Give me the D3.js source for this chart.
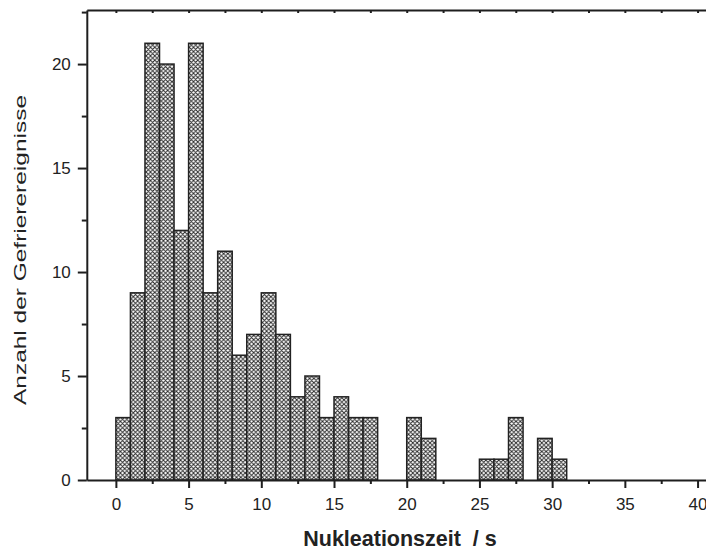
<!DOCTYPE html>
<html>
<head>
<meta charset="utf-8">
<script src="https://cdn.jsdelivr.net/npm/d3@7"></script>
<style>
  html, body { margin: 0; background: #fff; overflow: hidden; }
  svg { display: block; overflow: hidden; }
  svg text { font-family: Arial, "Liberation Sans", sans-serif; fill: #222; }
</style>
</head>
<body>
<div id="chart"></div>
<script>
// histogram bins (left edge, 1 s wide) and counts
const BIN_START = [0, 1, 2, 3, 4, 5, 6, 7, 8, 9, 10, 11, 12, 13, 14, 15, 16, 17,
                   20, 21, 25, 26, 27, 29, 30];
const COUNTS    = [3, 9, 21, 20, 12, 21, 9, 11, 6, 7, 9, 7, 4, 5, 3, 4, 3, 3,
                   3, 2, 1, 1, 3, 2, 1];
const X_TICKS = [0, 5, 10, 15, 20, 25, 30, 35, 40];
const X_MINOR = [2.5, 7.5, 12.5, 17.5, 22.5, 27.5, 32.5, 37.5];
const Y_TICKS = [0, 5, 10, 15, 20];
const Y_MINOR = [2.5, 7.5, 12.5, 17.5, 22.5];
const X_LABEL = 'Nukleationszeit  / s';
const Y_LABEL = 'Anzahl der Gefrierereignisse';

const WIDTH = 706, HEIGHT = 550;
const AXIS_COLOR = '#1e1e1e';

const svg = d3.select('#chart').append('svg')
  .attr('width', WIDTH)
  .attr('height', HEIGHT);

// cross hatch fill
const pat = svg.append('defs').append('pattern')
  .attr('id', 'hatch')
  .attr('patternUnits', 'userSpaceOnUse')
  .attr('width', 4.3)
  .attr('height', 4.3);
pat.append('rect').attr('width', 4.3).attr('height', 4.3).attr('fill', '#fff');
pat.append('path')
  .attr('d', 'M-1,1 L1,-1 M0,4.3 L4.3,0 M3.3,5.3 L5.3,3.3 M-1,3.3 L1,5.3 M0,0 L4.3,4.3 M3.3,-1 L5.3,1')
  .attr('stroke', '#262626')
  .attr('stroke-width', 0.95);

// the frame is cut off at the right edge of the picture
const x = d3.scaleLinear().domain([-2, 40.58]).range([86.8, 706]);
const y = d3.scaleLinear().domain([0, 22.6]).range([480, 10]);

// bars
svg.append('g')
  .selectAll('rect')
  .data(COUNTS)
  .join('rect')
  .attr('x', (d, i) => x(BIN_START[i]))
  .attr('y', d => y(d))
  .attr('width', (d, i) => x(BIN_START[i] + 1) - x(BIN_START[i]))
  .attr('height', d => y(0) - y(d))
  .attr('fill', 'url(#hatch)')
  .attr('stroke', '#222')
  .attr('stroke-width', 1.5);

function styleAxis(g) {
  g.select('.domain').attr('stroke', AXIS_COLOR).attr('stroke-width', 2);
  g.selectAll('.tick line').attr('stroke', AXIS_COLOR).attr('stroke-width', 2);
  g.selectAll('.tick text').attr('font-size', 17).attr('fill', '#222');
}

// bottom axis
svg.append('g')
  .attr('transform', `translate(0,${y(0)})`)
  .call(d3.axisBottom(x).tickValues(X_TICKS).tickSize(8).tickSizeOuter(0).tickPadding(10))
  .call(styleAxis);
svg.append('g')
  .attr('transform', `translate(0,${y(0)})`)
  .call(d3.axisBottom(x).tickValues(X_MINOR).tickSize(4).tickFormat(''))
  .call(g => g.select('.domain').remove())
  .call(styleAxis);

// top axis (frame)
svg.append('g')
  .attr('transform', `translate(0,${y(22.6)})`)
  .call(d3.axisTop(x).tickValues(X_TICKS.concat(X_MINOR)).tickSize(-3).tickSizeOuter(0).tickFormat(''))
  .call(styleAxis);

// left axis
svg.append('g')
  .attr('transform', `translate(${x(-2)},0)`)
  .call(d3.axisLeft(y).tickValues(Y_TICKS).tickSize(9).tickSizeOuter(0).tickPadding(7))
  .call(styleAxis);
svg.append('g')
  .attr('transform', `translate(${x(-2)},0)`)
  .call(d3.axisLeft(y).tickValues(Y_MINOR).tickSize(5).tickFormat(''))
  .call(g => g.select('.domain').remove())
  .call(styleAxis);

// axis titles
svg.append('text')
  .attr('x', 400)
  .attr('y', 546)
  .attr('text-anchor', 'middle')
  .attr('font-size', 21.5)
  .attr('font-weight', 'bold')
  .attr('xml:space', 'preserve')
  .text(X_LABEL);

svg.append('text')
  .attr('transform', 'translate(26,250) rotate(-90)')
  .attr('text-anchor', 'middle')
  .attr('font-size', 17)
  .attr('textLength', 310)
  .attr('lengthAdjust', 'spacingAndGlyphs')
  .text(Y_LABEL);

// nothing is drawn inside the frame at its right edge
svg.append('rect')
  .attr('x', 699)
  .attr('y', y(22.6) + 4)
  .attr('width', 7)
  .attr('height', y(0) - y(22.6) - 6)
  .attr('fill', '#fff');
</script>
</body>
</html>
